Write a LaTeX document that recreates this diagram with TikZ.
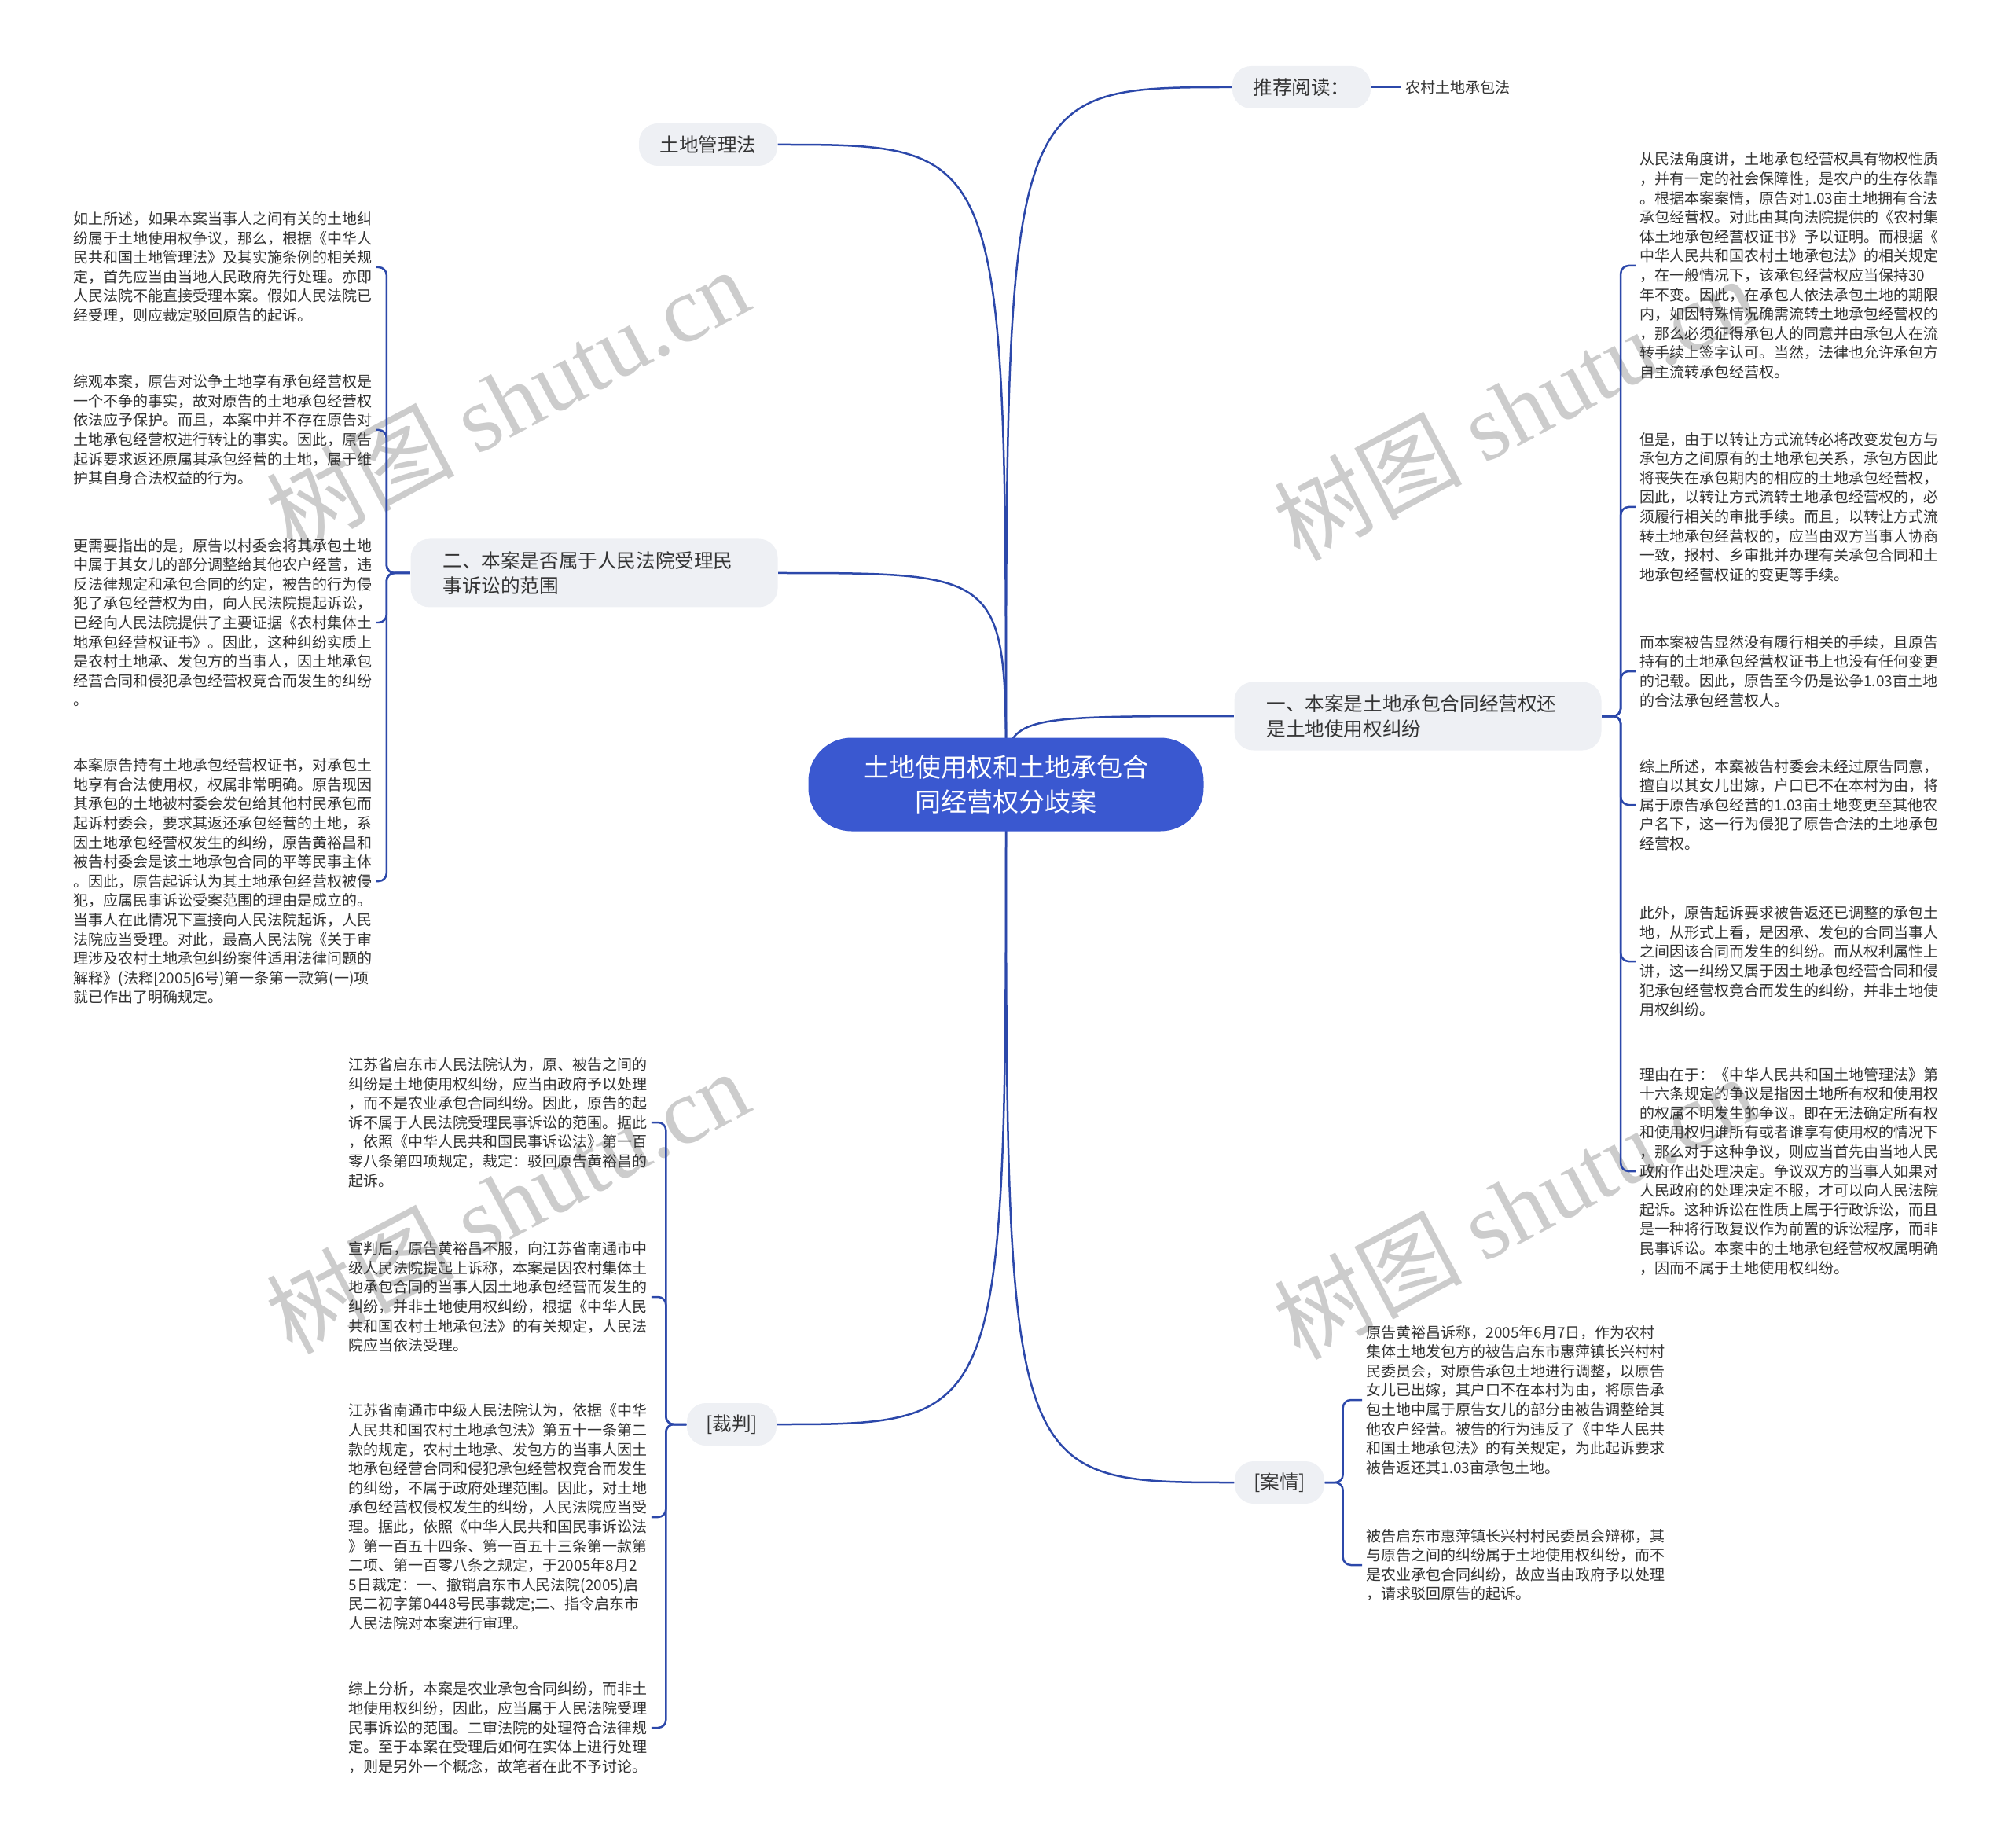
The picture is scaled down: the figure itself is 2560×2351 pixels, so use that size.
\documentclass[tikz,border=0pt]{standalone}
\usepackage{fontspec}
\setmainfont{Noto Sans CJK SC}
\newfontfamily\wmlatin{Liberation Serif}
\usetikzlibrary{backgrounds}

\definecolor{hubblue}{RGB}{58,88,208}
\definecolor{linkblue}{RGB}{44,72,170}
\definecolor{topicgray}{RGB}{238,240,244}
\definecolor{inkgray}{RGB}{51,51,51}

\begin{document}
\begin{tikzpicture}[x=0.1mm, y=-0.1mm,
    hub/.style={fill=hubblue, text=white, rounded corners=5.5mm, minimum width=50.3mm,
        minimum height=11.9mm, align=center, font=\fontsize{9.4pt}{12.5pt}\selectfont},
    topic/.style={fill=topicgray, text=inkgray, rounded corners=2.4mm, minimum height=5.4mm,
        inner xsep=0pt, font=\fontsize{7pt}{9.3pt}\selectfont},
    longtopic/.style={topic, align=left, text width=38.5mm, inner xsep=4.1mm,
        minimum width=46.7mm, minimum height=8.7mm},
    note/.style={text=inkgray, align=left, inner xsep=0.5mm, inner ysep=0pt,
        font=\fontsize{5.4pt}{7pt}\selectfont},
    link/.style={draw=linkblue, line width=0.25mm},
    twig/.style={link, rounded corners=1mm},
    wmark/.style={text=black!20, rotate=28, font=\fontsize{34pt}{34pt}\selectfont}]
    \useasboundingbox (0,0) rectangle (2560,2351);

    % centre and main topics
    \node[hub] (hub) at (1280,998) {土地使用权和土地承包合\\同经营权分歧案};
    \node[topic, minimum width=17.6mm] (tj) at (1656,111) {推荐阅读：};
    \node[note, anchor=west] (law) at (1783,111) {农村土地承包法};
    \node[topic, minimum width=17.6mm] (gl) at (901,184) {土地管理法};
    \node[longtopic] (b2) at (756,729) {二、本案是否属于人民法院受理民\\事诉讼的范围};
    \node[longtopic] (b1) at (1804,911) {一、本案是土地承包合同经营权还\\是土地使用权纠纷};
    \node[topic, minimum width=11.4mm] (cp) at (931,1812) {[裁判]};
    \node[topic, minimum width=11.4mm] (aq) at (1628,1886) {[案情]};

    % notes under 二
    \node[note, anchor=west] (l1) at (88,340) {如上所述，如果本案当事人之间有关的土地纠\\
        纷属于土地使用权争议，那么，根据《中华人\\
        民共和国土地管理法》及其实施条例的相关规\\
        定，首先应当由当地人民政府先行处理。亦即\\
        人民法院不能直接受理本案。假如人民法院已\\
        经受理，则应裁定驳回原告的起诉。};
    \node[note, anchor=west] (l2) at (88,547) {综观本案，原告对讼争土地享有承包经营权是\\
        一个不争的事实，故对原告的土地承包经营权\\
        依法应予保护。而且，本案中并不存在原告对\\
        土地承包经营权进行转让的事实。因此，原告\\
        起诉要求返还原属其承包经营的土地，属于维\\
        护其自身合法权益的行为。};
    \node[note, anchor=west] (l3) at (88,792) {更需要指出的是，原告以村委会将其承包土地\\
        中属于其女儿的部分调整给其他农户经营，违\\
        反法律规定和承包合同的约定，被告的行为侵\\
        犯了承包经营权为由，向人民法院提起诉讼，\\
        已经向人民法院提供了主要证据《农村集体土\\
        地承包经营权证书》。因此，这种纠纷实质上\\
        是农村土地承、发包方的当事人，因土地承包\\
        经营合同和侵犯承包经营权竞合而发生的纠纷\\
        。};
    \node[note, anchor=west] (l4) at (88,1121) {本案原告持有土地承包经营权证书，对承包土\\
        地享有合法使用权，权属非常明确。原告现因\\
        其承包的土地被村委会发包给其他村民承包而\\
        起诉村委会，要求其返还承包经营的土地，系\\
        因土地承包经营权发生的纠纷，原告黄裕昌和\\
        被告村委会是该土地承包合同的平等民事主体\\
        。因此，原告起诉认为其土地承包经营权被侵\\
        犯，应属民事诉讼受案范围的理由是成立的。\\
        当事人在此情况下直接向人民法院起诉，人民\\
        法院应当受理。对此，最高人民法院《关于审\\
        理涉及农村土地承包纠纷案件适用法律问题的\\
        解释》(法释[2005]6号)第一条第一款第(一)项\\
        就已作出了明确规定。};

    % notes under 一
    \node[note, anchor=west] (r1) at (2081,338) {从民法角度讲，土地承包经营权具有物权性质\\
        ，并有一定的社会保障性，是农户的生存依靠\\
        。根据本案案情，原告对1.03亩土地拥有合法\\
        承包经营权。对此由其向法院提供的《农村集\\
        体土地承包经营权证书》予以证明。而根据《\\
        中华人民共和国农村土地承包法》的相关规定\\
        ，在一般情况下，该承包经营权应当保持30\\
        年不变。因此，在承包人依法承包土地的期限\\
        内，如因特殊情况确需流转土地承包经营权的\\
        ，那么必须征得承包人的同意并由承包人在流\\
        转手续上签字认可。当然，法律也允许承包方\\
        自主流转承包经营权。};
    \node[note, anchor=west] (r2) at (2081,645) {但是，由于以转让方式流转必将改变发包方与\\
        承包方之间原有的土地承包关系，承包方因此\\
        将丧失在承包期内的相应的土地承包经营权，\\
        因此，以转让方式流转土地承包经营权的，必\\
        须履行相关的审批手续。而且，以转让方式流\\
        转土地承包经营权的，应当由双方当事人协商\\
        一致，报村、乡审批并办理有关承包合同和土\\
        地承包经营权证的变更等手续。};
    \node[note, anchor=west] (r3) at (2081,854) {而本案被告显然没有履行相关的手续，且原告\\
        持有的土地承包经营权证书上也没有任何变更\\
        的记载。因此，原告至今仍是讼争1.03亩土地\\
        的合法承包经营权人。};
    \node[note, anchor=west] (r4) at (2081,1024) {综上所述，本案被告村委会未经过原告同意，\\
        擅自以其女儿出嫁，户口已不在本村为由，将\\
        属于原告承包经营的1.03亩土地变更至其他农\\
        户名下，这一行为侵犯了原告合法的土地承包\\
        经营权。};
    \node[note, anchor=west] (r5) at (2081,1223) {此外，原告起诉要求被告返还已调整的承包土\\
        地，从形式上看，是因承、发包的合同当事人\\
        之间因该合同而发生的纠纷。而从权利属性上\\
        讲，这一纠纷又属于因土地承包经营合同和侵\\
        犯承包经营权竞合而发生的纠纷，并非土地使\\
        用权纠纷。};
    \node[note, anchor=west] (r6) at (2081,1490) {理由在于：《中华人民共和国土地管理法》第\\
        十六条规定的争议是指因土地所有权和使用权\\
        的权属不明发生的争议。即在无法确定所有权\\
        和使用权归谁所有或者谁享有使用权的情况下\\
        ，那么对于这种争议，则应当首先由当地人民\\
        政府作出处理决定。争议双方的当事人如果对\\
        人民政府的处理决定不服，才可以向人民法院\\
        起诉。这种诉讼在性质上属于行政诉讼，而且\\
        是一种将行政复议作为前置的诉讼程序，而非\\
        民事诉讼。本案中的土地承包经营权权属明确\\
        ，因而不属于土地使用权纠纷。};

    % notes under [裁判]
    \node[note, anchor=west] (k1) at (438,1428) {江苏省启东市人民法院认为，原、被告之间的\\
        纠纷是土地使用权纠纷，应当由政府予以处理\\
        ，而不是农业承包合同纠纷。因此，原告的起\\
        诉不属于人民法院受理民事诉讼的范围。据此\\
        ，依照《中华人民共和国民事诉讼法》第一百\\
        零八条第四项规定，裁定：驳回原告黄裕昌的\\
        起诉。};
    \node[note, anchor=west] (k2) at (438,1650) {宣判后，原告黄裕昌不服，向江苏省南通市中\\
        级人民法院提起上诉称，本案是因农村集体土\\
        地承包合同的当事人因土地承包经营而发生的\\
        纠纷，并非土地使用权纠纷，根据《中华人民\\
        共和国农村土地承包法》的有关规定，人民法\\
        院应当依法受理。};
    \node[note, anchor=west] (k3) at (438,1930) {江苏省南通市中级人民法院认为，依据《中华\\
        人民共和国农村土地承包法》第五十一条第二\\
        款的规定，农村土地承、发包方的当事人因土\\
        地承包经营合同和侵犯承包经营权竞合而发生\\
        的纠纷，不属于政府处理范围。因此，对土地\\
        承包经营权侵权发生的纠纷，人民法院应当受\\
        理。据此，依照《中华人民共和国民事诉讼法\\
        》第一百五十四条、第一百五十三条第一款第\\
        二项、第一百零八条之规定，于2005年8月2\\
        5日裁定：一、撤销启东市人民法院(2005)启\\
        民二初字第0448号民事裁定;二、指令启东市\\
        人民法院对本案进行审理。};
    \node[note, anchor=west] (k4) at (438,2198) {综上分析，本案是农业承包合同纠纷，而非土\\
        地使用权纠纷，因此，应当属于人民法院受理\\
        民事诉讼的范围。二审法院的处理符合法律规\\
        定。至于本案在受理后如何在实体上进行处理\\
        ，则是另外一个概念，故笔者在此不予讨论。};

    % notes under [案情]
    \node[note, anchor=west] (c1) at (1733,1781) {原告黄裕昌诉称，2005年6月7日，作为农村\\
        集体土地发包方的被告启东市惠萍镇长兴村村\\
        民委员会，对原告承包土地进行调整，以原告\\
        女儿已出嫁，其户口不在本村为由，将原告承\\
        包土地中属于原告女儿的部分由被告调整给其\\
        他农户经营。被告的行为违反了《中华人民共\\
        和国土地承包法》的有关规定，为此起诉要求\\
        被告返还其1.03亩承包土地。};
    \node[note, anchor=west] (c2) at (1733,1991) {被告启东市惠萍镇长兴村村民委员会辩称，其\\
        与原告之间的纠纷属于土地使用权纠纷，而不\\
        是农业承包合同纠纷，故应当由政府予以处理\\
        ，请求驳回原告的起诉。};

    \begin{scope}[on background layer]
        \clip (0,0) rectangle (2560,2351);
        % watermark
        \foreach \wx/\wy in {645/508, 1927/519, 645/1528, 1927/1535, 645/2538, 1927/2546}
            \node[wmark] (wm\wx\wy) at (\wx,\wy) {树图 {\wmlatin shutu.cn}};

        % curves from the centre
        \draw[link] (hub.center) .. controls (hub.center |- tj.west) .. (tj.west);
        \draw[link] (hub.center) .. controls (hub.center |- gl.east) .. (gl.east);
        \draw[link] (hub.center) .. controls (hub.center |- b2.east) .. (b2.east);
        \draw[link] (hub.center) .. controls (hub.center |- b1.west) .. (b1.west);
        \draw[link] (hub.center) .. controls (hub.center |- cp.east) .. (cp.east);
        \draw[link] (hub.center) .. controls (hub.center |- aq.west) .. (aq.west);
        \draw[link] (tj.east) -- (law.west);

        % brackets to the notes
        \foreach \n in {l1,l2,l3,l4}
            \draw[twig] (b2.west) -- ++(-30,0) |- (\n.east);
        \foreach \n in {r1,r2,r3,r4,r5,r6}
            \draw[twig] (b1.east) -- ++(24,0) |- (\n.west);
        \foreach \n in {k1,k2,k3,k4}
            \draw[twig] (cp.west) -- ++(-26,0) |- (\n.east);
        \foreach \n in {c1,c2}
            \draw[twig] (aq.east) -- ++(23,0) |- (\n.west);
    \end{scope}
\end{tikzpicture}
\end{document}
